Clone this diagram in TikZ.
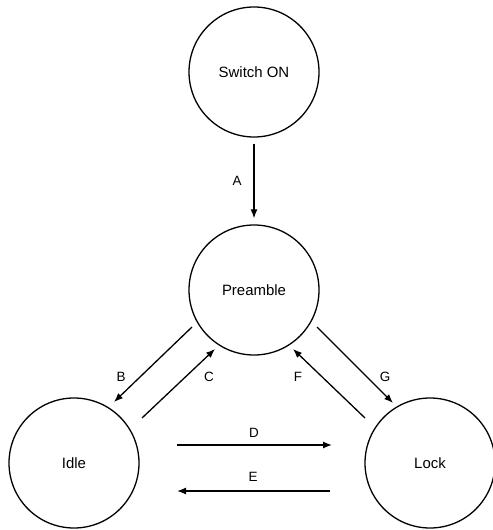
\documentclass[tikz,border=0pt]{standalone}
\usepackage{fontspec}
\setmainfont{Liberation Sans}
\usetikzlibrary{arrows.meta}
\begin{document}
\begin{tikzpicture}[x=1bp,y=-1bp,
  state/.style={draw,circle,line width=1.3bp,minimum size=130bp,inner sep=0pt,font=\fontsize{15}{17}\selectfont},
  arr/.style={line width=1.3bp,-{Latex[length=9bp,width=7bp]}},
  lbl/.style={font=\fontsize{13.5}{15}\selectfont,inner sep=0pt}]
\useasboundingbox (0,0) rectangle (493,530);
\node[state] (sw) at (254,72) {Switch ON};
\node[state] (pre) at (254,290) {Preamble};
\node[state] (idle) at (74,463) {Idle};
\node[state] (lock) at (430,463) {Lock};
% endpoints
\coordinate (b1) at (192,327); \coordinate (b2) at (114,402);
\coordinate (c1) at (142,418); \coordinate (c2) at (215,349);
\coordinate (f1) at (365,418); \coordinate (f2) at (293,349);
\coordinate (g1) at (317,327); \coordinate (g2) at (393,403);
\coordinate (d1) at (177,445); \coordinate (d2) at (332,445);
\coordinate (e1) at (330,491); \coordinate (e2) at (177,491);
\draw[arr,shorten <=6bp,shorten >=6bp] (sw) -- (pre);
\draw[arr] (b1) -- (b2);
\draw[arr] (c1) -- (c2);
\draw[arr] (f1) -- (f2);
\draw[arr] (g1) -- (g2);
\draw[arr] (d1) -- (d2);
\draw[arr] (e1) -- (e2);
\node[lbl] (la) at (237,181) {A};
\node[lbl] (lb) at (121,377) {B};
\node[lbl] (lc) at (209,377) {C};
\node[lbl] (lf) at (298,377) {F};
\node[lbl] (lg) at (385,377) {G};
\node[lbl] (ld) at (254,433) {D};
\node[lbl] (le) at (253,477) {E};
\end{tikzpicture}
\end{document}
